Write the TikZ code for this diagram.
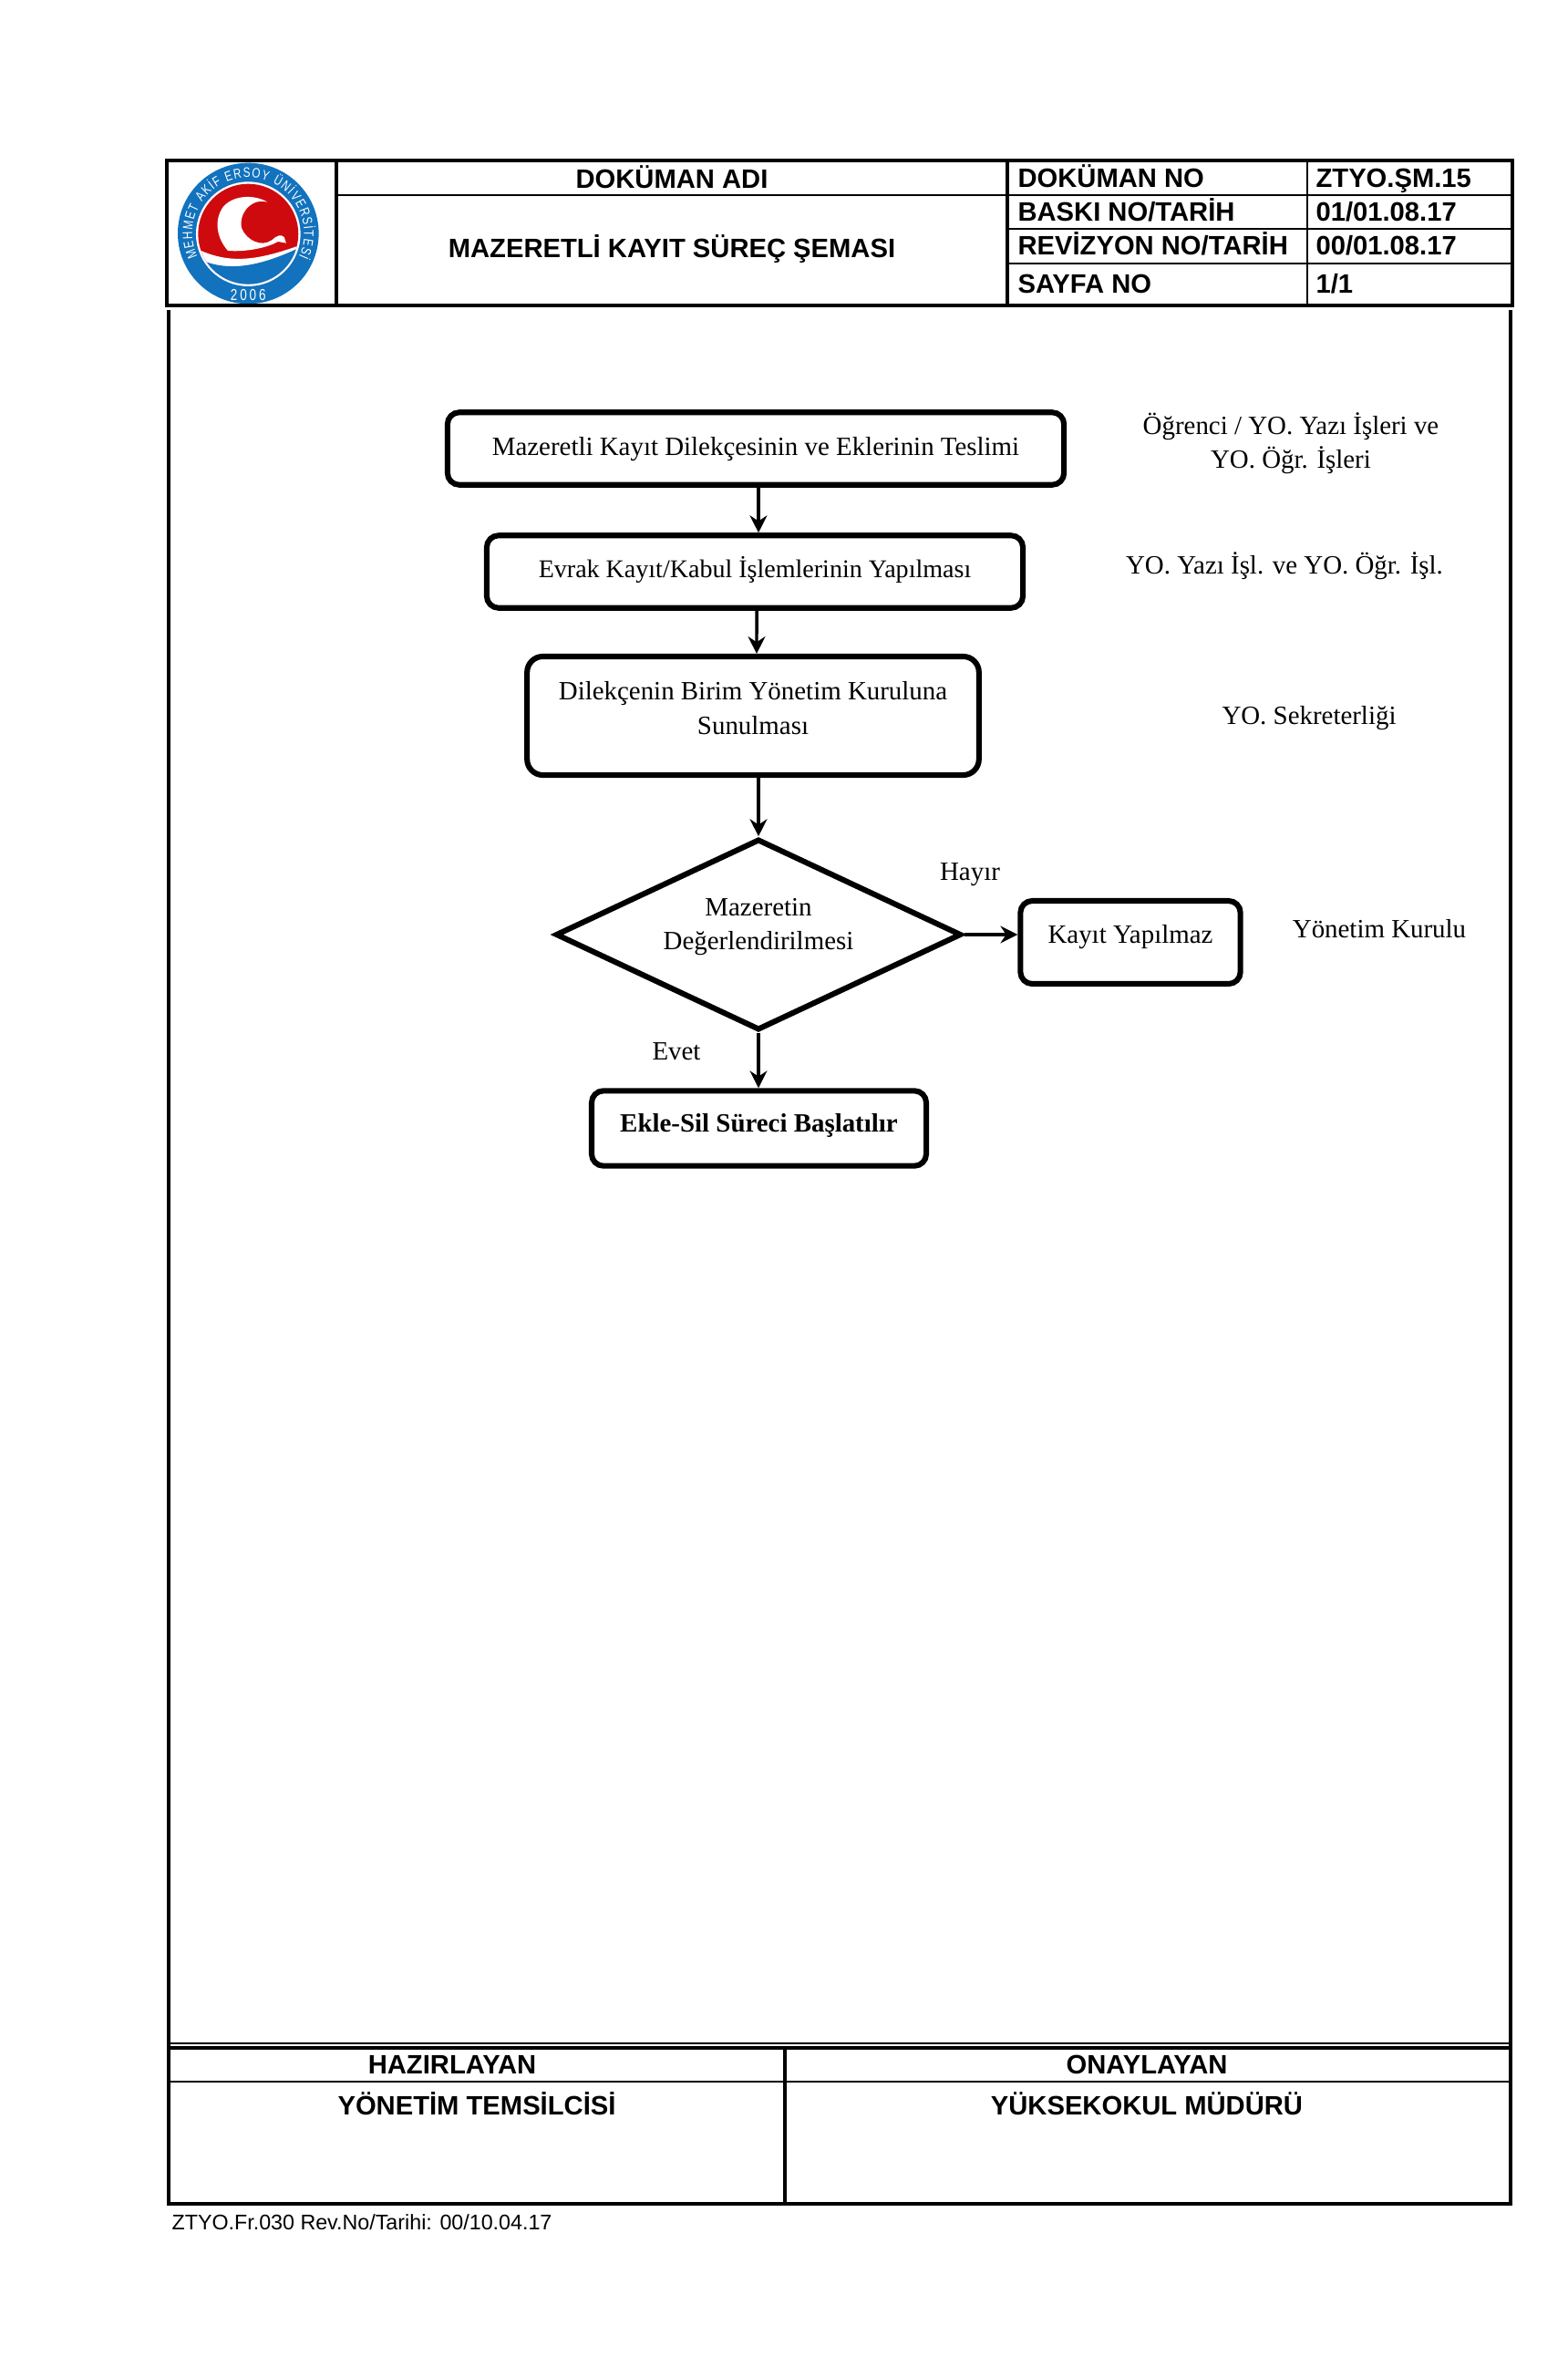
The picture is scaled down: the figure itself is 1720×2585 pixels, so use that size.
\documentclass[tikz,border=0pt]{standalone}
\usepackage{fontspec}
\setmainfont{Liberation Serif}
\newfontfamily\headfont{Liberation Sans}
\newfontfamily\logofont[FakeStretch=0.78]{Liberation Sans}
\usetikzlibrary{positioning,arrows.meta,calc,shapes.geometric,decorations.text}
\definecolor{logoblue}{HTML}{1272BD}
\definecolor{logored}{HTML}{CF0A0E}

\begin{document}
\begin{tikzpicture}[
    x=0.346pt, y=-0.346pt,
    flowbox/.style={draw, line width=2.1pt, rectangle, rounded corners=4.5pt, align=center, inner sep=0pt, font=\fontsize{10}{13}\selectfont},
    decisionnode/.style={draw, line width=2.1pt, diamond, aspect=2.1, align=center, inner sep=0pt, minimum width=154pt, minimum height=72.5pt, font=\fontsize{10}{13}\selectfont},
    flowarrow/.style={line width=1.2pt, -{Stealth[length=6.5pt, width=6.5pt]}},
    sidenote/.style={align=center, inner sep=0pt, font=\fontsize{10}{13}\selectfont},
    headtext/.style={inner sep=0pt, font=\headfont\bfseries\fontsize{10.1}{12}\selectfont},
    rowtext/.style={headtext, anchor=base west},
    frameline/.style={line width=1.3pt},
    thinline/.style={line width=0.7pt}
]
\useasboundingbox (0,0) rectangle (1720,2585);

% logo
\begin{scope}[shift={(170,160)}, x=0.1153pt, y=-0.1153pt]
    \fill[logoblue] (307,288) circle (232);
    \fill[white] (307,290) circle (172);
    \begin{scope}
        \clip (307,290) circle (165);
        \fill[logored] (130,110) rectangle (480,480);
        \fill[white] (370,185) .. controls (330,160) and (260,160) .. (225,200)
            .. controls (195,240) and (200,300) .. (240,345)
            .. controls (300,350) and (370,335) .. (405,315) -- (432,320) -- (425,300)
            .. controls (415,290) and (400,295) .. (385,310)
            .. controls (350,335) and (300,310) .. (285,270)
            .. controls (275,220) and (320,170) .. (370,185);
        \fill[white] (130,335) .. controls (240,390) and (330,380) .. (480,326) -- (480,480) -- (130,480) -- cycle;
        \fill[logoblue] (130,365) .. controls (240,425) and (360,390) .. (480,333) -- (480,480) -- (130,480) -- cycle;
    \end{scope}
    \path[decorate, decoration={text along path, text color=white, text align={fit to path},
        text={|\logofont\fontsize{5.2}{6}\selectfont|MEHMET AKİF ERSOY ÜNİVERSİTESİ}}]
        (307,288) ++(155:184) arc[start angle=155, end angle=385, radius=184];
    \node[text=white, inner sep=0pt, font=\logofont\fontsize{6}{7}\selectfont] (logoyear) at (307,490) {2\,0\,0\,6};
\end{scope}

% header table
\draw[frameline] (183,176) rectangle (1659,335);
\draw[frameline] (369,176) -- (369,335);
\draw[frameline] (1105,176) -- (1105,335);
\draw[thinline] (369,214) -- (1659,214);
\draw[thinline] (1105,251) -- (1659,251);
\draw[thinline] (1105,289) -- (1659,289);
\draw[thinline] (1434,176) -- (1434,335);

\node[headtext] (docname) at (737,194) {DOKÜMAN ADI};
\node[headtext] (doctitle) at (737,273) {MAZERETLİ KAYIT SÜREÇ ŞEMASI};
\node[rowtext] (docno) at (1116,206) {DOKÜMAN NO};
\node[rowtext] (docnoval) at (1443,206) {ZTYO.ŞM.15};
\node[rowtext] (printno) at (1116,243) {BASKI NO/TARİH};
\node[rowtext] (printnoval) at (1443,243) {01/01.08.17};
\node[rowtext] (revno) at (1116,280) {REVİZYON NO/TARİH};
\node[rowtext] (revnoval) at (1443,280) {00/01.08.17};
\node[rowtext] (pageno) at (1116,321) {SAYFA NO};
\node[rowtext] (pagenoval) at (1443,321) {1/1};

% page frame
\draw[frameline] (185,340) -- (185,2252);
\draw[frameline] (1657,340) -- (1657,2252);

% flow
\node[flowbox, minimum width=234pt, minimum height=27.5pt, text depth=1.5pt] (teslim) at (829,492) {Mazeretli Kayıt Dilekçesinin ve Eklerinin Teslimi};
\node[flowbox, minimum width=203.5pt, minimum height=27.5pt, text depth=3.5pt, font=\fontsize{9.7}{13}\selectfont] (evrak) at (828,627) {Evrak Kayıt/Kabul İşlemlerinin Yapılması};
\node[flowbox, minimum width=171.5pt, minimum height=45pt, text depth=6pt, rounded corners=6pt] (sunum) at (826,785) {Dilekçenin Birim Yönetim Kuruluna\\Sunulması};
\node[decisionnode, text depth=8pt] (karar) at (832,1025) {Mazeretin\\Değerlendirilmesi};
\node[flowbox, minimum width=83.5pt, minimum height=31.5pt, text depth=6pt] (red) at (1240,1033.5) {Kayıt Yapılmaz};
\node[flowbox, minimum width=127pt, minimum height=28.5pt, text depth=4pt, font=\bfseries\fontsize{10}{13}\selectfont] (ekle) at (832.5,1237.5) {Ekle-Sil Süreci Başlatılır};

\draw[flowarrow] (teslim.south -| karar.north) -- (evrak.north -| karar.north);
\draw[flowarrow] ([xshift=0.7pt]evrak.south) -- ([xshift=1.38pt]sunum.north);
\draw[flowarrow] (sunum.south -| karar.north) -- (karar.north);
\draw[flowarrow] (karar.east) -- (karar.east -| red.west);
\draw[flowarrow] (karar.south) -- (ekle.north -| karar.south);

\node[sidenote] (hayir) at (1064,959) {Hayır};
\node[sidenote] (evet) at (742,1153) {Evet};
\node[sidenote] (sorumlu1) at (1416,486) {Öğrenci / YO. Yazı İşleri ve\\YO. Öğr. İşleri};
\node[sidenote] (sorumlu2) at (1409,621) {YO. Yazı İşl. ve YO. Öğr. İşl.};
\node[sidenote] (sorumlu3) at (1436,788) {YO. Sekreterliği};
\node[sidenote] (sorumlu4) at (1513,1019) {Yönetim Kurulu};

% footer table
\draw[frameline] (185,2246) rectangle (1657,2417);
\draw[thinline] (183,2241) -- (1657,2241);
\draw[thinline] (185,2283) -- (1657,2283);
\draw[frameline] (861,2246) -- (861,2417);

\node[headtext] (hazirlayan) at (496,2264) {HAZIRLAYAN};
\node[headtext] (hazirlayanad) at (523,2307) {YÖNETİM TEMSİLCİSİ};
\node[headtext] (onaylayan) at (1258,2264) {ONAYLAYAN};
\node[headtext] (onaylayanad) at (1258,2307) {YÜKSEKOKUL MÜDÜRÜ};
\node[anchor=west, inner sep=0pt, font=\headfont\fontsize{8.05}{10}\selectfont] (formno) at (188,2437) {ZTYO.Fr.030 Rev.No/Tarihi: 00/10.04.17};
\end{tikzpicture}
\end{document}
